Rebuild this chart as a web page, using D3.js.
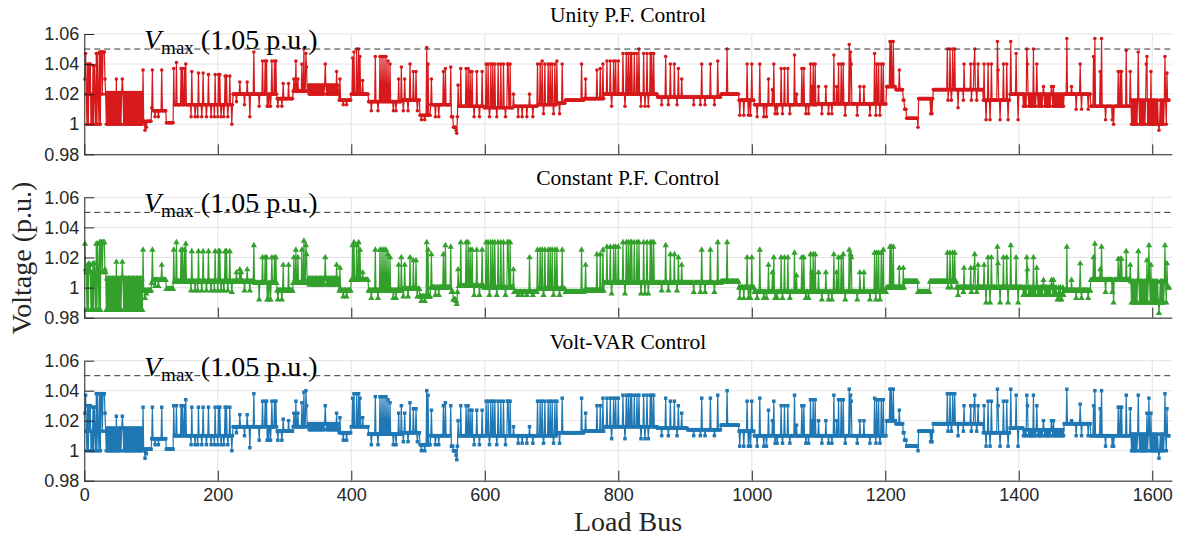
<!DOCTYPE html>
<html>
<head>
<meta charset="utf-8">
<script src="https://cdn.jsdelivr.net/npm/d3@7"></script>
<style>
  body { margin: 0; background: #fff; }
  svg { display: block; }
</style>
</head>
<body>
<svg id="chart" width="1178" height="540"></svg>
<script>
// ---- data ----
const busCount = 1625;
const xTicks = [0, 200, 400, 600, 800, 1000, 1200, 1400, 1600];
const yTicks = [0.98, 1.00, 1.02, 1.04, 1.06];
const vMax = 1.05;
const titles = ['Unity P.F. Control', 'Constant P.F. Control', 'Volt-VAR Control'];

// buses 1..32, one value each
const redHead = [1.030, 1.047, 1.020, 1.000, 1.040, 1.000, 1.040, 1.020, 1.040, 1.000, 1.020, 1.000, 1.039, 1.000, 1.039, 1.020,
    1.000, 1.047, 1.000, 1.047, 1.020, 1.000, 1.048, 1.000, 1.048, 1.048, 1.020, 1.048, 1.048, 1.048, 1.030, 1.020];
const greenHead = [1.029, 1.012, 1.010, 0.985, 1.015, 0.985, 1.016, 1.010, 1.015, 0.985, 1.010, 0.985, 1.016, 0.985, 1.016, 1.010,
    0.985, 1.029, 0.985, 1.029, 1.010, 0.985, 1.030, 0.985, 1.030, 1.030, 1.010, 1.030, 1.030, 1.030, 1.012, 1.010];
const blueHead = [1.025, 1.037, 1.013, 1.000, 1.030, 1.000, 1.030, 1.013, 1.030, 1.000, 1.013, 1.000, 1.029, 1.000, 1.029, 1.013,
    1.000, 1.038, 1.000, 1.038, 1.013, 1.000, 1.038, 1.000, 1.038, 1.038, 1.013, 1.038, 1.038, 1.038, 1.025, 1.013];

// [fromBus, toBus, level] or [fromBus, toBus, low, high] for buses that alternate
const redLevels = [
    [33, 88, 1.000, 1.021], [89, 100, 1.002], [101, 122, 1.009], [123, 133, 1.001], [134, 222, 1.013],
    [223, 255, 1.020], [256, 288, 1.020], [289, 312, 1.017], [313, 335, 1.022], [336, 381, 1.020, 1.026],
    [382, 399, 1.016], [400, 425, 1.020], [426, 474, 1.015], [475, 502, 1.016], [503, 518, 1.006],
    [519, 549, 1.013], [550, 559, 1.005], [560, 598, 1.012], [599, 643, 1.011], [644, 678, 1.012],
    [679, 707, 1.013], [708, 720, 1.014], [721, 748, 1.016], [749, 778, 1.017], [779, 858, 1.020],
    [859, 953, 1.018], [954, 980, 1.020], [981, 1003, 1.016], [1004, 1097, 1.013], [1098, 1201, 1.0135],
    [1202, 1215, 1.025], [1216, 1226, 1.023], [1227, 1228, 1.016], [1229, 1231, 1.010], [1232, 1248, 1.004],
    [1249, 1249, 0.998], [1250, 1271, 1.017], [1272, 1346, 1.023], [1347, 1386, 1.016], [1387, 1406, 1.020],
    [1407, 1467, 1.012, 1.020], [1468, 1507, 1.020], [1508, 1566, 1.012], [1567, 1622, 1.000, 1.016], [1623, 1625, 1.016]
];
const greenLevels = [
    [33, 88, 0.985, 1.006], [89, 100, 0.998], [101, 122, 1.005], [123, 133, 0.999], [134, 222, 1.004],
    [223, 255, 1.004], [256, 288, 1.003], [289, 312, 0.998], [313, 335, 1.003], [336, 381, 1.002, 1.006],
    [382, 399, 0.998], [400, 425, 1.005], [426, 474, 0.998], [475, 502, 0.999], [503, 518, 0.994],
    [519, 549, 1.000], [550, 559, 0.997], [560, 598, 1.001], [599, 643, 1.000], [644, 678, 0.997],
    [679, 720, 0.999], [721, 748, 0.997], [749, 778, 0.998], [779, 953, 1.003], [954, 980, 1.004],
    [981, 1003, 1.000], [1004, 1201, 0.997], [1202, 1228, 1.000], [1229, 1248, 1.004], [1249, 1266, 0.997],
    [1267, 1306, 1.004], [1307, 1406, 1.000], [1407, 1467, 0.995, 1.000], [1468, 1507, 0.998], [1508, 1566, 1.005],
    [1567, 1622, 0.990, 1.004], [1623, 1625, 1.000]
];
const blueLevels = [
    [33, 88, 1.000, 1.015], [89, 100, 1.001], [101, 122, 1.008], [123, 133, 1.001], [134, 222, 1.010],
    [223, 255, 1.016], [256, 288, 1.016], [289, 312, 1.013], [313, 335, 1.016], [336, 381, 1.014, 1.018],
    [382, 399, 1.012], [400, 425, 1.016], [426, 474, 1.011], [475, 502, 1.012], [503, 518, 1.004],
    [519, 549, 1.010], [550, 559, 1.003], [560, 707, 1.010], [708, 748, 1.012], [749, 778, 1.013],
    [779, 858, 1.016], [859, 903, 1.015], [904, 953, 1.014], [954, 980, 1.017], [981, 1003, 1.013],
    [1004, 1201, 1.010], [1202, 1215, 1.020], [1216, 1226, 1.018], [1227, 1228, 1.012], [1229, 1231, 1.007],
    [1232, 1248, 1.003], [1249, 1249, 1.000], [1250, 1271, 1.013], [1272, 1346, 1.018], [1347, 1386, 1.012],
    [1387, 1406, 1.015], [1407, 1467, 1.010, 1.014], [1468, 1507, 1.018], [1508, 1566, 1.010],
    [1567, 1622, 1.000, 1.011], [1623, 1625, 1.010]
];

// [value, [buses]] single buses that jump off the level
const redPoints = [
    [1.036, [88, 102, 116]], [0.996, [91]], [0.998, [93]], [1.011, [101]], [1.005, [106, 111]],
    [1.030, [48, 57]],
    [1.037, [134, 145, 147, 150]], [1.041, [138]], [1.040, [152]],
    [1.035, [161]], [1.034, [171, 178]], [1.033, [186, 196, 201, 203]], [1.032, [211, 213, 218]],
    [1.005, [160, 166, 170, 176, 183, 190, 195, 200, 205, 209, 215]], [1.000, [221]],
    [1.015, [228]], [1.013, [240]], [1.005, [248]], [1.048, [254]], [1.028, [233, 244]],
    [1.042, [267, 271, 273, 281, 285, 287]], [1.012, [262, 274, 276, 279, 290, 296]], [1.027, [298, 306]],
    [1.030, [314, 320]], [1.042, [317]], [1.040, [326]], [1.050, [329]], [1.047, [332]], [1.038, [333]],
    [1.040, [361]], [1.035, [378]], [1.030, [383]], [1.013, [388, 393]],
    [1.044, [402]], [1.048, [404]], [1.050, [408, 411]], [1.045, [413]], [1.029, [417]],
    [1.009, [430, 440, 463, 467]], [1.045, [436, 443, 446, 449, 452]], [1.042, [455]], [1.040, [458]], [1.030, [471]],
    [1.038, [475]], [1.030, [480]], [1.040, [488]], [1.035, [493, 497]], [1.009, [478, 485, 499]],
    [1.003, [505, 510]], [1.051, [513]], [1.040, [515]], [1.030, [520]], [1.005, [526, 531]],
    [1.035, [538]], [1.037, [541]], [1.038, [549]],
    [0.998, [553, 554, 555, 556]], [0.996, [557]], [0.994, [558]],
    [1.026, [560]], [1.037, [564, 572, 575]], [1.035, [578, 581, 588, 596]], [1.005, [584, 592]],
    [1.040, [602, 605, 609, 612, 615, 620, 624, 628, 634, 635, 638]], [1.005, [607, 618, 631]],
    [1.020, [643, 667]], [1.005, [650, 656, 663, 672]],
    [1.040, [679, 683, 690, 695, 698, 701, 705]], [1.042, [686, 708]], [1.040, [716, 745]], [1.007, [688, 703, 712]],
    [1.030, [751]], [1.036, [768]], [1.037, [773]], [1.040, [777]], [1.042, [783, 788, 793, 796, 800]],
    [1.047, [807, 812, 815, 818, 820, 824, 828, 838, 843, 848, 850, 853]], [1.050, [831]], [1.012, [790, 810, 834, 840, 845]],
    [1.045, [871]], [1.040, [878, 884]], [1.037, [890]], [1.030, [895]], [1.013, [865, 875, 888]],
    [1.013, [913, 923, 930, 944]], [1.040, [925, 938]], [1.042, [949]], [1.050, [963]],
    [1.006, [982, 988, 995, 998]], [1.040, [993, 1000]], [1.040, [1012]], [1.030, [1025]], [1.005, [1008, 1018, 1022]],
    [1.023, [1031]], [1.040, [1033]], [1.037, [1044, 1049, 1054]], [1.007, [1035, 1038, 1046, 1057]],
    [1.046, [1064]], [1.020, [1067]], [1.037, [1075, 1078]], [1.007, [1081, 1085]],
    [1.040, [1088, 1092, 1095]], [1.025, [1090]], [1.025, [1100, 1111]], [1.007, [1105, 1115, 1120]],
    [1.046, [1123]], [1.025, [1127]], [1.040, [1130, 1134, 1137]],
    [1.053, [1146]], [1.048, [1148]], [1.040, [1149]],
    [1.006, [1140, 1158, 1177]], [1.025, [1162, 1168]],
    [1.047, [1184]], [1.040, [1187, 1190, 1194, 1197]], [1.006, [1186, 1192]],
    [1.055, [1207, 1209, 1212]], [1.036, [1221]], [1.007, [1268, 1270]],
    [1.050, [1293, 1297, 1301, 1304]], [1.016, [1294, 1299]],
    [1.016, [1317, 1329, 1337]], [1.011, [1309]], [1.040, [1318, 1328, 1333, 1339, 1348]], [1.050, [1334]],
    [1.003, [1351, 1357, 1372, 1384]], [1.055, [1368, 1388]], [1.040, [1354, 1359, 1377, 1382]], [1.036, [1369]],
    [1.003, [1399]], [1.047, [1396]], [1.050, [1412, 1422]], [1.040, [1413, 1427]],
    [1.025, [1437, 1449, 1452]], [1.057, [1472]], [1.025, [1479]], [1.040, [1492]], [1.010, [1486, 1494, 1504]],
    [1.057, [1514, 1524]], [1.045, [1512]], [1.035, [1522]],
    [1.003, [1530, 1540]], [1.000, [1542]], [1.035, [1549, 1552, 1554, 1567]], [1.049, [1561]], [1.048, [1579]],
    [0.996, [1610]], [1.040, [1591]], [1.045, [1592]], [1.035, [1598]], [1.045, [1619]], [1.034, [1622]]
];
const greenPoints = [
    [1.025, [88, 102]], [0.993, [91]], [0.996, [93]], [1.003, [101]], [1.015, [116]], [1.001, [106, 111]],
    [1.017, [48, 57]],
    [1.025, [134, 145, 147, 150]], [1.030, [138]], [1.029, [152]],
    [1.024, [161, 171, 178, 186, 196, 201, 203, 211, 213, 218]], [0.998, [160, 166, 170, 176, 183, 190, 195, 200, 205, 209, 215]], [0.997, [221]],
    [1.010, [228, 235]], [0.998, [240, 248]], [1.028, [254]], [1.012, [233, 244]],
    [1.020, [267, 271, 273, 281, 285, 287]], [0.992, [262, 274, 276, 279, 290, 296]], [1.015, [298, 306]],
    [1.020, [314, 320]], [1.025, [317, 326]], [1.031, [329]], [1.028, [332]], [1.022, [333]],
    [1.020, [361]], [1.015, [378]], [1.013, [383]], [0.994, [388, 393]],
    [1.028, [402, 408]], [1.030, [404, 411]], [1.025, [413]], [1.010, [417]],
    [0.993, [430, 440, 463, 467]], [1.025, [436, 443, 446, 449, 452]], [1.022, [455]], [1.020, [458]], [1.015, [471]],
    [1.020, [475, 488]], [1.015, [480]], [1.018, [493, 497]], [0.994, [478, 485, 499]],
    [0.991, [505, 510]], [1.030, [513]], [1.025, [515]], [1.022, [520]], [0.995, [526, 531]],
    [1.022, [538]], [1.028, [541]], [1.027, [549]],
    [0.992, [553, 554, 555, 556]], [0.991, [557]], [0.989, [558]],
    [1.012, [560]], [1.030, [564, 572, 575]], [1.025, [578, 581, 588, 596]], [0.995, [584, 592]],
    [1.030, [602, 605, 609, 612, 615, 620, 624, 628, 634, 635, 638]], [0.995, [607, 618, 631]],
    [1.012, [643]], [1.020, [667]], [0.995, [650, 656, 663, 672]],
    [1.025, [679, 683, 686, 690, 695, 698, 701, 705, 708]], [1.025, [716, 745]], [0.995, [688, 703, 712]],
    [1.015, [751]], [1.022, [768, 773]], [1.025, [777]], [1.027, [783, 788, 793, 796, 800]],
    [1.030, [807, 812, 815, 818, 820, 824, 828, 831, 838, 843, 848, 850, 853]], [0.996, [790, 810, 834, 840, 845]],
    [1.028, [871]], [1.022, [878, 884]], [1.020, [890]], [1.015, [895]], [0.998, [865, 875, 888]],
    [0.997, [913, 923, 930, 944]], [1.025, [925, 938]], [1.030, [949]], [1.030, [963]],
    [0.993, [982, 988, 995, 998]], [1.020, [993, 1000]], [1.025, [1012]], [1.015, [1025]], [0.993, [1008, 1018, 1022]],
    [1.010, [1031]], [1.020, [1033, 1044, 1049, 1054]], [0.993, [1035, 1038, 1046, 1057]],
    [1.023, [1064]], [1.008, [1067]], [1.020, [1075, 1078]], [0.993, [1081, 1085]],
    [1.022, [1088, 1092, 1095]], [1.010, [1090]], [1.010, [1100, 1111]], [0.992, [1105, 1115, 1120]],
    [1.022, [1123, 1137]], [1.010, [1127]], [1.020, [1130, 1134]],
    [1.025, [1146]], [1.022, [1148]], [1.020, [1149]],
    [0.992, [1140, 1158, 1177]], [1.010, [1162, 1168]],
    [1.023, [1184, 1187, 1190, 1194]], [1.025, [1197]], [0.992, [1186, 1192]],
    [1.027, [1207, 1209, 1212]], [1.013, [1221, 1227]],
    [1.023, [1293, 1297, 1301, 1304]], [1.000, [1294, 1299]],
    [0.997, [1317, 1329, 1337]], [0.995, [1309]], [1.013, [1318, 1328, 1333]], [1.022, [1334]], [1.015, [1339, 1348]],
    [0.990, [1351, 1357, 1372, 1384]], [1.027, [1368]], [1.028, [1388]], [1.020, [1354, 1359, 1377, 1382]], [1.016, [1369]],
    [0.990, [1399]], [1.020, [1396]], [1.020, [1412, 1422]], [1.012, [1413]], [1.013, [1427]],
    [1.005, [1437, 1449, 1452]], [0.992, [1458, 1461, 1464]],
    [1.027, [1472]], [1.005, [1479]], [1.016, [1492]], [0.993, [1486, 1494, 1504]],
    [1.029, [1514]], [1.027, [1524]], [1.020, [1512]], [1.012, [1522]],
    [0.997, [1530, 1540]], [0.990, [1542]], [1.019, [1549, 1552, 1554]], [1.024, [1561, 1579]], [1.015, [1567]],
    [0.983, [1610]], [1.028, [1595, 1619]], [1.018, [1592]], [1.015, [1598]], [1.016, [1622]]
];
const bluePoints = [
    [1.029, [88, 102, 116]], [0.995, [91]], [0.998, [93]], [1.008, [101]], [1.004, [106, 111]],
    [1.023, [48, 57]],
    [1.030, [134, 138, 145, 147, 150]], [1.034, [152]],
    [1.029, [161, 171, 178, 186, 196, 201, 203, 211, 213, 218]], [1.004, [160, 166, 170, 176, 183, 190, 195, 200, 205, 209, 215]], [1.000, [221]],
    [1.012, [228]], [1.010, [240]], [1.002, [248]], [1.038, [254]], [1.024, [233, 244]],
    [1.033, [267, 271, 273, 281, 285, 287]], [1.007, [262, 274, 276, 279, 290, 296]], [1.021, [298]], [1.020, [306]],
    [1.025, [314, 320]], [1.033, [317]], [1.032, [326]], [1.039, [329]], [1.040, [332]], [1.030, [333]],
    [1.030, [361]], [1.025, [378]], [1.022, [383]], [1.007, [388, 393]],
    [1.035, [402, 413]], [1.038, [404, 408, 411]], [1.022, [417]],
    [1.004, [430, 440, 463, 467]], [1.036, [436, 443, 446, 449, 452]], [1.034, [455]], [1.032, [458]], [1.025, [471]],
    [1.030, [475]], [1.025, [480]], [1.032, [488]], [1.028, [493, 497]], [1.006, [478, 485, 499]],
    [1.000, [505, 510]], [1.040, [513]], [1.037, [515]], [1.027, [520]], [1.004, [526, 531]],
    [1.030, [538, 549]], [1.032, [541]],
    [1.000, [553, 554, 555, 556]], [0.997, [557]], [0.994, [558]],
    [1.020, [560]], [1.030, [564, 572, 575]], [1.027, [578, 581, 588, 596]], [1.004, [584, 592]],
    [1.033, [602, 605, 609, 612, 615, 620, 624, 628, 634, 635, 638]], [1.004, [607, 618, 631]],
    [1.016, [643, 667]], [1.005, [650, 656, 663, 672]],
    [1.033, [679, 683, 686, 690, 695, 698, 701, 705, 708]], [1.035, [716, 745]], [1.005, [688, 703, 712]],
    [1.025, [751]], [1.030, [768, 773]], [1.035, [777]], [1.035, [783, 788, 793, 796, 800]],
    [1.037, [807, 812, 815, 818, 820, 824, 828, 831, 838, 843, 848, 850, 853]], [1.008, [790, 810, 834, 840, 845]],
    [1.035, [871]], [1.033, [878, 884]], [1.030, [890]], [1.025, [895]], [1.010, [865, 875, 888]],
    [1.010, [913, 923, 930, 944]], [1.035, [925, 938]], [1.037, [949]], [1.040, [963]],
    [1.003, [982, 988, 995, 998]], [1.033, [993, 1000]], [1.035, [1012]], [1.027, [1025]], [1.003, [1008, 1018, 1022]],
    [1.020, [1031]], [1.033, [1033]], [1.030, [1044, 1049, 1054]], [1.005, [1035, 1038, 1046, 1057]],
    [1.037, [1064]], [1.017, [1067]], [1.030, [1075, 1078]], [1.005, [1081, 1085]],
    [1.034, [1088, 1092, 1095]], [1.020, [1090]], [1.020, [1100, 1111]], [1.005, [1105, 1115, 1120]],
    [1.037, [1123]], [1.020, [1127]], [1.034, [1130, 1134, 1137]],
    [1.041, [1146]], [1.037, [1148]], [1.033, [1149]],
    [1.005, [1140, 1158, 1177]], [1.020, [1162, 1168]],
    [1.035, [1184]], [1.034, [1187, 1190, 1194, 1197]], [1.005, [1186, 1192]],
    [1.041, [1207, 1209, 1212]], [1.027, [1221]], [1.006, [1268, 1270]],
    [1.038, [1293, 1297, 1301, 1304]], [1.013, [1294, 1299]],
    [1.013, [1317, 1329, 1337]], [1.010, [1309]], [1.030, [1318, 1328, 1333, 1339, 1348]], [1.037, [1334]],
    [1.003, [1351, 1357, 1372, 1384]], [1.041, [1368, 1388]], [1.033, [1354, 1359, 1377, 1382]], [1.030, [1369]],
    [1.003, [1399]], [1.037, [1396]], [1.037, [1412, 1422]], [1.030, [1413, 1427]],
    [1.020, [1437, 1449, 1452]], [1.041, [1472]], [1.020, [1479]], [1.031, [1492]], [1.010, [1486, 1494, 1504]],
    [1.040, [1514, 1524]], [1.030, [1512]], [1.028, [1522]],
    [1.003, [1530, 1540, 1542]], [1.029, [1549, 1552, 1554]], [1.037, [1561, 1579]], [1.028, [1567]],
    [0.995, [1610]], [1.035, [1595]], [1.025, [1592, 1598]], [1.038, [1619]], [1.028, [1622]]
];

// ---- build ----
function buildSeries(head, levels, points) {
    let v = new Array(busCount + 1);
    levels.forEach(function (l) {
        for (let b = l[0]; b <= l[1]; b++) {
            v[b] = l.length > 3 ? (b % 2 ? l[2] : l[3]) : l[2];
        }
    });
    head.forEach(function (val, i) { v[i + 1] = val; });
    points.forEach(function (p) {
        p[1].forEach(function (b) { v[b] = p[0]; });
    });
    let out = [];
    let last = v[1];
    for (let b = 1; b <= busCount; b++) {
        if (v[b] === undefined) v[b] = last;
        last = v[b];
        out.push({ bus: b, v: v[b] });
    }
    return out;
}

const panels = [
    { title: titles[0], top: 34, bottom: 154.3, color: '#d7191c', marker: 'circle',
      data: buildSeries(redHead, redLevels, redPoints) },
    { title: titles[1], top: 197.3, bottom: 317.7, color: '#33a02c', marker: 'triangle',
      data: buildSeries(greenHead, greenLevels, greenPoints) },
    { title: titles[2], top: 360.7, bottom: 480.7, color: '#1f78b4', marker: 'square',
      data: buildSeries(blueHead, blueLevels, bluePoints) }
];

const svg = d3.select('#chart');
const x = d3.scaleLinear().domain([0, 1630]).range([84.3, 1172.3]);
const serif = "'Liberation Serif', 'DejaVu Serif', serif";
const sans = "'Liberation Sans', Arial, sans-serif";

function drawPanel(p, i) {
    const y = d3.scaleLinear().domain([0.98, 1.06]).range([p.bottom, p.top]);
    const g = svg.append('g');

    // grid
    g.selectAll('.gy').data(yTicks).enter().append('line')
        .attr('x1', x.range()[0]).attr('x2', x.range()[1])
        .attr('y1', d => y(d)).attr('y2', d => y(d))
        .attr('stroke', '#e3e3e3').attr('stroke-width', 1);
    g.selectAll('.gx').data(xTicks).enter().append('line')
        .attr('x1', d => x(d)).attr('x2', d => x(d))
        .attr('y1', p.top).attr('y2', p.bottom)
        .attr('stroke', '#e3e3e3').attr('stroke-width', 1);

    // series
    const line = d3.line().x(d => x(d.bus)).y(d => y(d.v));
    g.append('path').datum(p.data)
        .attr('d', line)
        .attr('fill', 'none')
        .attr('stroke', p.color)
        .attr('stroke-width', 1.2);

    const m = g.append('g').attr('fill', p.color);
    if (p.marker === 'circle') {
        m.selectAll('circle').data(p.data).enter().append('circle')
            .attr('cx', d => x(d.bus)).attr('cy', d => y(d.v)).attr('r', 1.8);
    } else {
        const sym = d3.symbol()
            .type(p.marker === 'triangle' ? d3.symbolTriangle : d3.symbolSquare)
            .size(p.marker === 'triangle' ? 17 : 12);
        m.selectAll('path').data(p.data).enter().append('path')
            .attr('transform', d => 'translate(' + x(d.bus) + ',' + y(d.v) + ')')
            .attr('d', sym);
    }

    // limit line
    g.append('line')
        .attr('x1', x.range()[0]).attr('x2', x.range()[1])
        .attr('y1', y(vMax)).attr('y2', y(vMax))
        .attr('stroke', '#333').attr('stroke-width', 1)
        .attr('stroke-dasharray', '6,4');

    // axes
    const yAxis = g.append('g')
        .attr('transform', 'translate(' + x.range()[0] + ',0)')
        .call(d3.axisLeft(y).tickValues(yTicks).tickFormat(d => String(+d.toFixed(2)))
            .tickSizeInner(-10).tickSizeOuter(0).tickPadding(5));
    const xAxis = g.append('g')
        .attr('transform', 'translate(0,' + p.bottom + ')')
        .call(d3.axisBottom(x).tickValues(xTicks)
            .tickSizeInner(-10).tickSizeOuter(0).tickPadding(8)
            .tickFormat(i === 2 ? d3.format('d') : ''));
    [yAxis, xAxis].forEach(function (a) {
        a.select('.domain').attr('stroke', '#262626').attr('stroke-width', 1);
        a.selectAll('.tick line').attr('stroke', '#262626');
        a.selectAll('text').attr('fill', '#262626')
            .style('font-family', sans).style('font-size', '18px');
    });
    xAxis.select('.domain').attr('d', 'M' + x.range()[0] + ',0.5H' + x.range()[1]);

    // labels
    const t = g.append('text')
        .attr('x', 144).attr('y', y(vMax))
        .style('font-family', serif).style('font-size', '28px').attr('fill', '#000');
    t.append('tspan').text('V').style('font-style', 'italic');
    t.append('tspan').text('max').attr('dy', 5).style('font-size', '19px');
    t.append('tspan').text('\u00a0(1.05 p.u.)').attr('dy', -5);

    g.append('text')
        .attr('x', 628).attr('y', p.top - 12)
        .attr('text-anchor', 'middle')
        .style('font-family', serif).style('font-size', '21.5px').attr('fill', '#000')
        .text(p.title);
}

panels.forEach(drawPanel);

svg.append('text')
    .attr('transform', 'translate(31,258) rotate(-90)')
    .attr('text-anchor', 'middle')
    .style('font-family', serif).style('font-size', '28px').attr('fill', '#262626')
    .text('Voltage (p.u.)');

svg.append('text')
    .attr('x', 628).attr('y', 531)
    .attr('text-anchor', 'middle')
    .style('font-family', serif).style('font-size', '28px').attr('fill', '#262626')
    .text('Load Bus');
</script>
</body>
</html>
